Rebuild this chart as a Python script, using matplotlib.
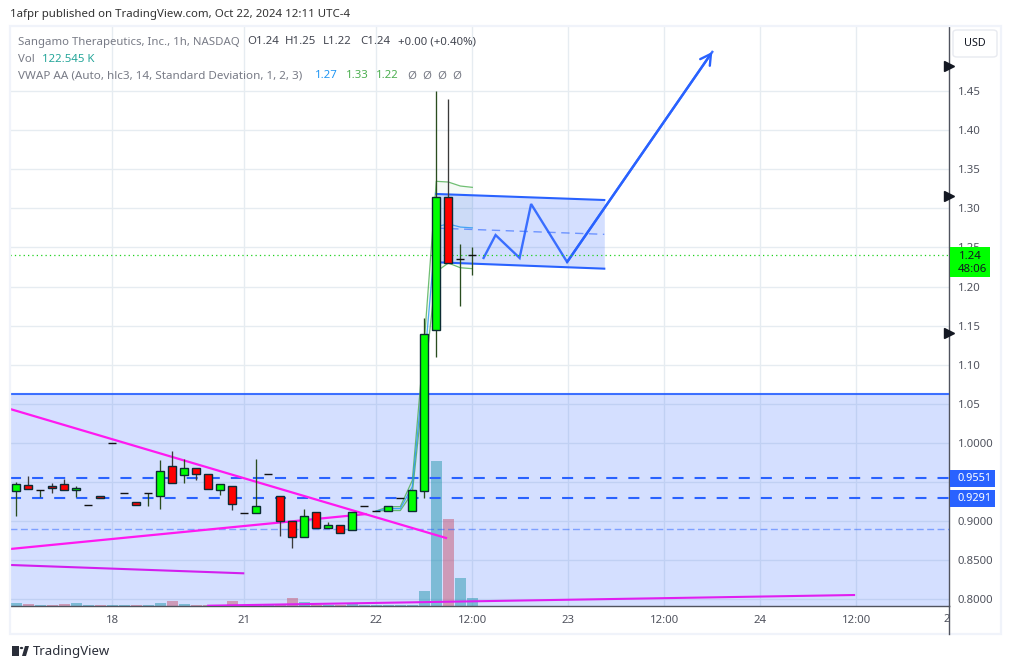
import matplotlib
matplotlib.use("Agg")
import matplotlib.pyplot as plt
from matplotlib.patches import Rectangle, FancyBboxPatch, Circle, Polygon
import numpy as np

W, H = 1011, 669
FONT = "Noto Sans"

# candles, hourly bars
opens = [0.9382, 0.9463, 0.940, 0.945, 0.9476, 0.9395, 0.9207, 0.932, 1.000, 0.936,
         0.9246, 0.936, 0.9318, 0.9706, 0.9587, 0.968, 0.9604, 0.9395, 0.945, 0.9105,
         0.9105, 0.9604, 0.932, 0.9003, 0.8794, 0.9118, 0.8913, 0.8951, 0.8883, 0.9194,
         0.913, 0.913, 0.9297, 0.9126, 0.9391, 1.144, 1.314, 1.2348, 1.24]
highs = [0.950, 0.9582, 0.940, 0.949, 0.954, 0.945, 0.9207, 0.932, 1.000, 0.936,
         0.9246, 0.936, 0.9787, 0.990, 0.980, 0.968, 0.9604, 0.9476, 0.945, 0.9105,
         0.980, 0.9604, 0.932, 0.9003, 0.916, 0.9118, 0.899, 0.8951, 0.9118, 0.9194,
         0.913, 0.9194, 0.9297, 0.940, 1.1593, 1.45, 1.44, 1.2543, 1.2505]
lows = [0.906, 0.9407, 0.9305, 0.9356, 0.9395, 0.9305, 0.9207, 0.929, 1.000, 0.936,
        0.9203, 0.919, 0.916, 0.9484, 0.949, 0.953, 0.9407, 0.934, 0.914, 0.9105,
        0.9105, 0.9604, 0.8815, 0.8653, 0.8794, 0.8913, 0.8913, 0.8845, 0.8883, 0.9194,
        0.913, 0.913, 0.9297, 0.9126, 0.93, 1.110, 1.23, 1.1755, 1.215]
closes = [0.9476, 0.9407, 0.940, 0.942, 0.9395, 0.9425, 0.9207, 0.929, 1.000, 0.936,
          0.9203, 0.936, 0.9642, 0.9484, 0.968, 0.960, 0.9407, 0.9476, 0.922, 0.9105,
          0.9194, 0.9604, 0.8998, 0.8794, 0.9067, 0.8913, 0.8951, 0.8845, 0.9118, 0.9194,
          0.913, 0.9194, 0.9297, 0.940, 1.1389, 1.314, 1.23, 1.2348, 1.24]
volumes = [46, 31, 15, 15, 31, 46, 15, 15, 15, 15, 15, 15, 46, 77, 31, 15, 15, 15, 77, 15,
           15, 15, 31, 122, 61, 15, 15, 15, 31, 15, 15, 15, 15, 15, 230, 2220, 1330, 430, 122.5]

# VWAP bands
vwap_x = [30, 31, 32, 33, 34, 35, 36, 37, 38]
vwap_mid = [0.913, 0.916, 0.916, 0.944, 1.10, 1.2765, 1.28, 1.276, 1.275]
vwap_up = [0.913, 0.9185, 0.9185, 0.952, 1.13, 1.3345, 1.3336, 1.3285, 1.3268]
vwap_dn = [0.913, 0.9135, 0.9135, 0.936, 1.08, 1.219, 1.23, 1.224, 1.2228]

# drawings
zone_top = 1.062
level_a = 0.9551
level_b = 0.9291
level_mid = 0.890
flag_x = [35.0, 49.0]
flag_top = [1.3183, 1.3106]
flag_bot = [1.231, 1.2228]
zig_x = [38.94, 39.94, 41.94, 42.9, 45.9, 58.0]
zig_y = [1.2365, 1.2658, 1.2365, 1.3055, 1.2313, 1.50]
magenta_a = ([-0.525, 35.9], [1.0434, 0.878])
magenta_b = ([-0.525, 29.2], [0.8643, 0.9091])
magenta_c = ([-0.525, 19.0], [0.8439, 0.8332])
magenta_d = ([15.9, 69.9], [0.7918, 0.8055])

# axes labels
price_ticks = [0.80, 0.85, 0.90, 0.95, 1.00, 1.05, 1.10, 1.15, 1.20, 1.25, 1.30, 1.35, 1.40, 1.45]
price_labels = ["0.8000", "0.8500", "0.9000", "", "1.0000", "1.05", "1.10", "1.15", "1.20",
                "1.25", "1.30", "1.35", "1.40", "1.45"]
time_ticks = [8, 19, 30, 38, 46, 54, 62, 70]
time_labels = ["18", "21", "22", "12:00", "23", "12:00", "24", "12:00"]
flag_marks = [1.482, 1.3156, 1.1405]

GREEN, RED = "#00ff00", "#ff0000"
BLUE = "#2962ff"
MAGENTA = "#ff19f0"
FS = 8.2


def fx(x):
    return x / W


def fy(y):
    return 1 - y / H


fig = plt.figure(figsize=(W / 100, H / 100), dpi=100, facecolor="white")
plt.rcParams["font.family"] = FONT

ax_l, ax_r, ax_t, ax_b = 10, 949.3, 27, 606
ax = fig.add_axes([fx(ax_l), fy(ax_b), (ax_r - ax_l) / W, (ax_b - ax_t) / H])
ax.set_xlim((ax_l - 16.3) / 12, (ax_r - 16.3) / 12)
ax.set_ylim(0.80 - (ax_b - 599.3) / 782, 0.80 + (599.3 - ax_t) / 782)
ax.set_axisbelow(True)

for s in ["top", "left"]:
    ax.spines[s].set_visible(False)
for s in ["right", "bottom"]:
    ax.spines[s].set_color("#50535e")
    ax.spines[s].set_linewidth(1.0)

ax.yaxis.tick_right()
ax.set_yticks(price_ticks)
ax.set_yticklabels(price_labels, fontsize=FS, color="#50535e", family=FONT)
ax.tick_params(axis="y", length=0, pad=6.2)
ax.set_xticks(time_ticks)
ax.set_xticklabels(time_labels, fontsize=FS, color="#50535e", family=FONT)
ax.tick_params(axis="x", length=0, pad=6.5)
ax.grid(True, color="#e6ecf1", linewidth=1.0, zorder=0.5)

x = np.arange(len(closes))
up = [c >= o for o, c in zip(opens, closes)]

# volume sits at the bottom, scaled against the pane height
VOL_TOP = 579 * 15.3
vol_colors = ["#26a69a" if u else "#ef5350" for u in up]
ax.bar(x, np.array(volumes) / VOL_TOP, width=0.92, color=vol_colors, alpha=0.5,
       transform=ax.get_xaxis_transform(), zorder=1, linewidth=0)

# big zone
ax.axhspan(ax.get_ylim()[0], zone_top, color=BLUE, alpha=0.2, linewidth=0, zorder=2)
ax.axhline(zone_top, color=BLUE, linewidth=1.5, alpha=0.9, zorder=3)
ax.axhline(level_a, color=BLUE, linewidth=1.5, linestyle=(0, (5.3, 5.3)), zorder=3)
ax.axhline(level_b, color=BLUE, linewidth=1.5, linestyle=(0, (5.3, 5.3)), zorder=3)
ax.axhline(level_mid, color=BLUE, linewidth=1.0, alpha=0.5, linestyle=(0, (5, 2.5)), zorder=3)

# VWAP
ax.fill_between(vwap_x, vwap_dn, vwap_up, color="#4caf50", alpha=0.05, linewidth=0, zorder=2.5)
ax.plot(vwap_x, vwap_up, color="#4caf50", linewidth=0.9, alpha=0.8, zorder=3.5)
ax.plot(vwap_x, vwap_dn, color="#4caf50", linewidth=0.9, alpha=0.8, zorder=3.5)
ax.plot(vwap_x, vwap_mid, color="#2196f3", linewidth=0.9, alpha=0.8, zorder=3.5)

# flag channel
ax.fill_between(flag_x, flag_bot, flag_top, color=BLUE, alpha=0.2, linewidth=0, zorder=3)
ax.plot(flag_x, flag_top, color=BLUE, linewidth=1.5, zorder=4)
ax.plot(flag_x, flag_bot, color=BLUE, linewidth=1.5, zorder=4)
ax.plot(flag_x, [(a + b) / 2 for a, b in zip(flag_top, flag_bot)], color=BLUE, linewidth=1.0,
        alpha=0.6, linestyle=(0, (6, 4)), zorder=4)

# projected path
ax.plot(zig_x, zig_y, color=BLUE, linewidth=1.7, alpha=0.9, zorder=4, solid_joinstyle="miter")
ax.annotate("", xy=(zig_x[-1], zig_y[-1]), xytext=(zig_x[-2], zig_y[-2]), zorder=4,
            arrowprops=dict(arrowstyle="->,head_length=0.75,head_width=0.42", color=BLUE,
                            linewidth=1.7, shrinkA=0, shrinkB=0))

# trend lines
for line, col, lw in [(magenta_a, MAGENTA, 1.6), (magenta_b, MAGENTA, 1.6),
                      (magenta_c, "#d21fee", 1.5), (magenta_d, "#e01ff0", 1.5)]:
    ax.plot(line[0], line[1], color=col, linewidth=lw, zorder=4.5, solid_capstyle="butt")

# last price
ax.axhline(closes[-1], color="#1ed11e", linewidth=0.9, linestyle=(0, (1, 2.5)), zorder=4.6)

# candles
for i in x:
    wick = "#2a4d1f" if up[i] else "#3a3a3a"
    ax.vlines(i, lows[i], highs[i], color=wick, linewidth=0.95, zorder=5)
    if abs(opens[i] - closes[i]) < 1e-4:
        ax.hlines(closes[i], i - 0.33, i + 0.33, color="#111111", linewidth=1.0, zorder=6)
    else:
        ax.bar(i, abs(closes[i] - opens[i]), bottom=min(opens[i], closes[i]), width=0.68,
               color=GREEN if up[i] else RED, edgecolor="#0c2b33", linewidth=1.0, zorder=6)

# flags on the price scale
ax.plot([1.0] * len(flag_marks), flag_marks, linestyle="none", marker=">", markersize=6.5,
        color="#131722", clip_on=False, transform=ax.get_yaxis_transform(), zorder=8)

# frame
fig.add_artist(Rectangle((fx(10), fy(633.5)), (1000.5 - 10) / W, (633.5 - 26) / H, fill=False,
                         edgecolor="#f0f3fa", linewidth=1.6, transform=fig.transFigure, zorder=1))
fig.add_artist(plt.Line2D([fx(949.3), fx(949.3)], [fy(606), fy(633.5)], color="#50535e",
                          linewidth=1.0, zorder=2))

# right side labels
fig.add_artist(FancyBboxPatch((fx(953), fy(57)), 44 / W, 27 / H, boxstyle="round,pad=0,rounding_size=0.004",
                              facecolor="white", edgecolor="#e8eaf0", linewidth=1.0,
                              transform=fig.transFigure, zorder=3))
fig.text(fx(975), fy(44), "USD", fontsize=7.8, color="#131722", ha="center", va="center", zorder=4)

fig.add_artist(Rectangle((fx(950), fy(277)), 40 / W, 30 / H, facecolor=GREEN, edgecolor="none",
                         transform=fig.transFigure, zorder=3))
fig.text(fx(959), fy(256), "1.24", fontsize=FS, color="#131722", va="center", zorder=4)
fig.text(fx(958), fy(269), "48:06", fontsize=FS, color="#131722", va="center", zorder=4)

for top, val in [(470, "0.9551"), (490, "0.9291")]:
    fig.add_artist(Rectangle((fx(950), fy(top + 17)), 45 / W, 17 / H, facecolor=BLUE, edgecolor="none",
                             transform=fig.transFigure, zorder=3))
    fig.text(fx(958), fy(top + 8.5), val, fontsize=7.9, color="white", fontweight="bold",
             va="center", zorder=4)

fig.text(fx(943), fy(619), "2", fontsize=FS, color="#50535e", va="center", zorder=4)

# header
GREY = "#787b86"
DARK = "#434651"
fig.text(fx(10), fy(15), "1afpr published on TradingView.com, Oct 22, 2024 12:11 UTC-4",
         fontsize=8.25, color="#333333", va="center")
fig.text(fx(18), fy(42), "Sangamo Therapeutics, Inc., 1h, NASDAQ", fontsize=FS, color=GREY, va="center")
for px, txt in [(247, "O1.24"), (285, "H1.25"), (323, "L1.22"), (360, "C1.24"), (398, "+0.00 (+0.40%)")]:
    fig.text(fx(px), fy(42), txt, fontsize=FS, color=DARK, va="center")
fig.text(fx(18), fy(59), "Vol", fontsize=FS, color=GREY, va="center")
fig.text(fx(42), fy(59), "122.545 K", fontsize=FS, color="#26a69a", va="center")
fig.text(fx(18), fy(76), "VWAP AA (Auto, hlc3, 14, Standard Deviation, 1, 2, 3)", fontsize=8.4, color=GREY,
         va="center")
for px, txt, col in [(315, "1.27", "#2196f3"), (346, "1.33", "#4caf50"), (376, "1.22", "#4caf50"),
                     (407, "Ø", GREY), (422, "Ø", GREY), (437, "Ø", GREY), (452, "Ø", GREY)]:
    fig.text(fx(px), fy(76), txt, fontsize=FS, color=col, va="center")

# footer logo
LOGO = "#2a2e39"
fig.add_artist(Rectangle((fx(12), fy(656)), 7 / W, 10 / H, facecolor=LOGO, edgecolor="none",
                         transform=fig.transFigure))
fig.add_artist(Polygon([[fx(22), fy(656)], [fx(25), fy(646)], [fx(29), fy(646)], [fx(26), fy(656)]],
                       facecolor=LOGO, edgecolor="none", transform=fig.transFigure))
fig.add_artist(Circle((fx(21.5), fy(648)), 1.7 / W, facecolor=LOGO, edgecolor="none",
                      transform=fig.transFigure))
fig.text(fx(33), fy(651), "TradingView", fontsize=9.5, color=LOGO, va="center", fontweight="medium")

fig.savefig("out.png", dpi=100)
